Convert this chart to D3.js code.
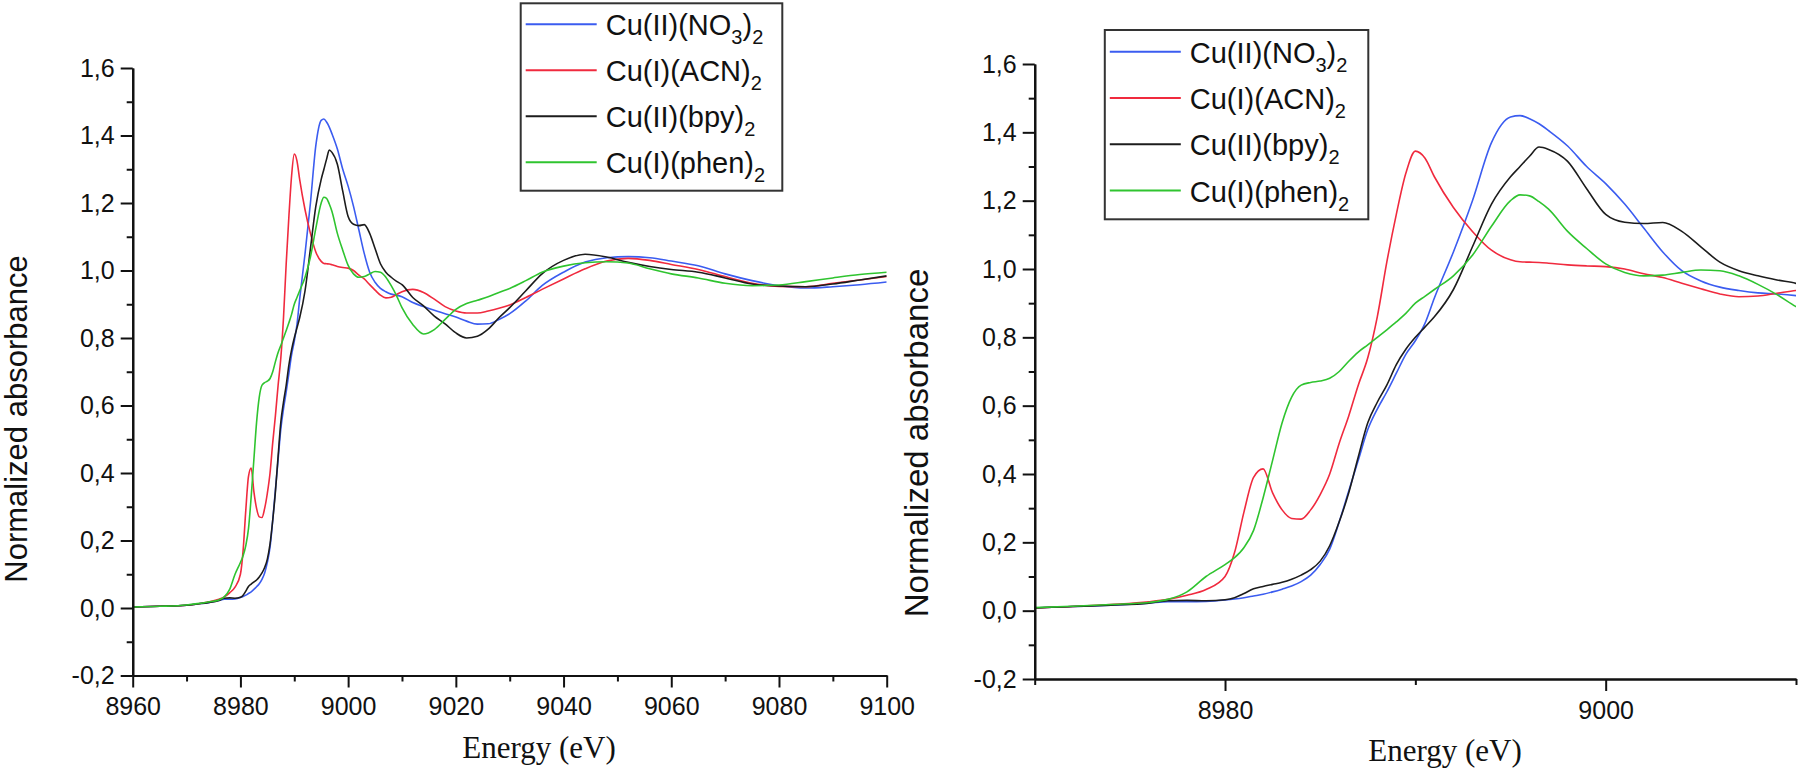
<!DOCTYPE html>
<html>
<head>
<meta charset="utf-8">
<script src="https://cdn.jsdelivr.net/npm/d3@7"></script>
<style>
  html, body { margin: 0; padding: 0; background: #fff; }
  svg { display: block; }
</style>
</head>
<body>
<svg id="chart" width="1800" height="772"></svg>
<script>
// ---------- DATA ----------
const energy = [8960, 8965, 8970, 8972, 8974, 8976, 8977, 8978, 8979, 8980,
  8980.5, 8981, 8981.5, 8982, 8982.5, 8983, 8983.5, 8984, 8984.5, 8985,
  8985.5, 8986, 8986.5, 8987, 8987.5, 8988, 8988.5, 8989, 8989.5, 8990,
  8990.5, 8991, 8992, 8993, 8994, 8995, 8995.5, 8996, 8996.5, 8997,
  8998, 8999, 9000, 9001, 9002, 9003, 9004, 9005, 9006, 9007,
  9008, 9009, 9010, 9012, 9014, 9016, 9018, 9020, 9022, 9024,
  9026, 9028, 9030, 9033, 9036, 9040, 9044, 9048, 9052, 9056,
  9060, 9065, 9070, 9075, 9080, 9085, 9090, 9095, 9100];

const cuNO3 = [0.003, 0.005, 0.008, 0.012, 0.016, 0.022, 0.026, 0.026, 0.027, 0.031,
  0.034, 0.038, 0.043, 0.048, 0.055, 0.063, 0.072, 0.085, 0.104, 0.135,
  0.18, 0.26, 0.35, 0.44, 0.53, 0.59, 0.64, 0.695, 0.75, 0.79,
  0.84, 0.915, 1.05, 1.20, 1.37, 1.445, 1.449, 1.44, 1.425, 1.405,
  1.36, 1.30, 1.25, 1.19, 1.12, 1.05, 0.995, 0.965, 0.947, 0.937,
  0.930, 0.927, 0.922, 0.905, 0.893, 0.882, 0.872, 0.862, 0.850, 0.841,
  0.842, 0.855, 0.872, 0.910, 0.955, 0.995, 1.025, 1.038, 1.041, 1.038,
  1.028, 1.014, 0.990, 0.970, 0.955, 0.948, 0.952, 0.958, 0.966];

const cuACN = [0.003, 0.005, 0.008, 0.012, 0.018, 0.026, 0.033, 0.045, 0.062, 0.10,
  0.17, 0.29, 0.39, 0.415, 0.345, 0.295, 0.27, 0.268, 0.295, 0.34,
  0.40, 0.49, 0.57, 0.66, 0.74, 0.86, 1.02, 1.16, 1.28, 1.345,
  1.325, 1.27, 1.18, 1.11, 1.055, 1.027, 1.021, 1.020, 1.019, 1.017,
  1.012, 1.009, 1.007, 1.0, 0.986, 0.975, 0.958, 0.942, 0.927, 0.919,
  0.921, 0.929, 0.937, 0.944, 0.935, 0.915, 0.893, 0.880, 0.874, 0.874,
  0.880, 0.888, 0.898, 0.920, 0.944, 0.975, 1.005, 1.028, 1.036, 1.030,
  1.018, 1.003, 0.982, 0.962, 0.953, 0.952, 0.962, 0.972, 0.982];

const cuBpy = [0.003, 0.005, 0.008, 0.012, 0.016, 0.022, 0.029, 0.030, 0.029, 0.032,
  0.038, 0.050, 0.064, 0.071, 0.077, 0.083, 0.092, 0.104, 0.120, 0.145,
  0.19, 0.26, 0.345, 0.45, 0.55, 0.61, 0.66, 0.72, 0.765, 0.80,
  0.83, 0.86, 0.94, 1.065, 1.19, 1.27, 1.30, 1.33, 1.357, 1.35,
  1.315, 1.235, 1.16, 1.137, 1.133, 1.136, 1.11, 1.065, 1.02, 0.995,
  0.98, 0.968, 0.958, 0.92, 0.895, 0.865, 0.842, 0.815, 0.80, 0.805,
  0.826, 0.86, 0.89, 0.94, 0.99, 1.03, 1.048, 1.04, 1.024, 1.012,
  1.003, 0.995, 0.978, 0.96, 0.954, 0.952, 0.96, 0.972, 0.984];

const cuPhen = [0.003, 0.005, 0.009, 0.013, 0.018, 0.024, 0.033, 0.055, 0.10, 0.135,
  0.155, 0.185, 0.235, 0.33, 0.44, 0.55, 0.625, 0.66, 0.668, 0.672,
  0.68, 0.70, 0.73, 0.757, 0.778, 0.80, 0.822, 0.845, 0.87, 0.90,
  0.92, 0.94, 0.98, 1.04, 1.125, 1.20, 1.217, 1.214, 1.197, 1.175,
  1.11, 1.06, 1.015, 0.99, 0.98, 0.982, 0.99, 0.997, 0.995, 0.98,
  0.955, 0.925, 0.89, 0.84, 0.812, 0.825, 0.855, 0.885, 0.902, 0.912,
  0.922, 0.935, 0.947, 0.97, 0.995, 1.013, 1.023, 1.026, 1.022, 1.005,
  0.99, 0.978, 0.962, 0.955, 0.957, 0.967, 0.978, 0.988, 0.995];

// legend labels: alternating [normal, subscript, normal, subscript ...]
const seriesLabels = [
  ["Cu(II)(NO", "3", ")", "2"],
  ["Cu(I)(ACN)", "2"],
  ["Cu(II)(bpy)", "2"],
  ["Cu(I)(phen)", "2"]
];
const seriesValues = [cuNO3, cuACN, cuBpy, cuPhen];
const seriesColors = ["#3b5cf0", "#f02a3e", "#1c1c1c", "#2fc42f"];

const yTicksMajor = [-0.2, 0, 0.2, 0.4, 0.6, 0.8, 1.0, 1.2, 1.4, 1.6];
const yTicksMinor = [-0.1, 0.1, 0.3, 0.5, 0.7, 0.9, 1.1, 1.3, 1.5];
const leftXMajor = [8960, 8980, 9000, 9020, 9040, 9060, 9080, 9100];
const leftXMinor = [8970, 8990, 9010, 9030, 9050, 9070, 9090];
const rightXMajor = [8980, 9000];
const rightXMinor = [8970, 8990, 9010];

const xTitle = "Energy (eV)";
const yTitle = "Normalized absorbance";

// ---------- DRAW ----------
const svg = d3.select("#chart");
svg.append("rect").attr("width", 1800).attr("height", 772).attr("fill", "#fff");

const SANS = "'Liberation Sans', Arial, Helvetica, sans-serif";
const SERIF = "'Liberation Serif', 'Times New Roman', Times, serif";
const fmt = v => (Math.abs(v) < 1e-9 ? 0 : v).toFixed(1).replace(".", ",");

function drawPanel(cfg, id) {
  const x = d3.scaleLinear().domain(cfg.xDomain).range(cfg.xRange);
  const y = d3.scaleLinear().domain([-0.2, 1.6]).range(cfg.yRange);
  const g = svg.append("g");

  const clipId = "clip" + id;
  svg.append("clipPath").attr("id", clipId).append("rect")
    .attr("x", cfg.xRange[0]).attr("y", cfg.yRange[1] - 40)
    .attr("width", cfg.xRange[1] - cfg.xRange[0])
    .attr("height", cfg.yRange[0] - cfg.yRange[1] + 40);

  const line = d3.line()
    .x((d, i) => x(energy[i]))
    .y(d => y(d))
    .curve(d3.curveMonotoneX);

  const lines = g.append("g").attr("clip-path", `url(#${clipId})`);
  seriesValues.forEach((vals, k) => {
    lines.append("path")
      .attr("d", line(vals))
      .attr("fill", "none")
      .attr("stroke", seriesColors[k])
      .attr("stroke-width", 1.6)
      .attr("stroke-linejoin", "round");
  });

  const styleAxis = sel => {
    sel.select(".domain").attr("stroke", "#111").attr("stroke-width", 2.2);
    sel.selectAll(".tick line").attr("stroke", "#111").attr("stroke-width", 2);
    sel.selectAll("text").attr("font-family", SANS).attr("font-size", 25).attr("fill", "#111");
  };

  const xAxisY = cfg.yRange[0];
  g.append("g").attr("transform", `translate(0,${xAxisY})`)
    .call(d3.axisBottom(x).tickValues(cfg.xMinor).tickSize(6).tickSizeOuter(0).tickFormat(""))
    .call(styleAxis);
  g.append("g").attr("transform", `translate(0,${xAxisY})`)
    .call(d3.axisBottom(x).tickValues(cfg.xMajor).tickSize(12).tickSizeOuter(0).tickPadding(10).tickFormat(d3.format("d")))
    .call(styleAxis);

  const yAxisX = cfg.xRange[0];
  g.append("g").attr("transform", `translate(${yAxisX},0)`)
    .call(d3.axisLeft(y).tickValues(yTicksMinor).tickSize(6).tickSizeOuter(0).tickFormat(""))
    .call(styleAxis);
  g.append("g").attr("transform", `translate(${yAxisX},0)`)
    .call(d3.axisLeft(y).tickValues(yTicksMajor).tickSize(12).tickSizeOuter(0).tickPadding(6).tickFormat(fmt))
    .call(styleAxis);

  g.append("text")
    .attr("x", cfg.xTitleX).attr("y", cfg.xTitleY)
    .attr("text-anchor", "middle")
    .attr("font-family", SERIF).attr("font-size", cfg.xTitleSize).attr("fill", "#111")
    .text(xTitle);
  g.append("text")
    .attr("transform", `translate(${cfg.yTitleX},${cfg.yTitleY}) rotate(-90)`)
    .attr("text-anchor", "middle")
    .attr("font-family", SANS).attr("font-size", cfg.yTitleSize).attr("fill", "#111")
    .text(yTitle);

  const L = cfg.legend;
  const lg = g.append("g");
  lg.append("rect")
    .attr("x", L.x).attr("y", L.y).attr("width", L.w).attr("height", L.h)
    .attr("fill", "#fff").attr("stroke", "#333").attr("stroke-width", 2);
  seriesLabels.forEach((parts, k) => {
    const ry = L.y + L.firstRow + k * L.rowGap;
    lg.append("line")
      .attr("x1", L.x + 5).attr("x2", L.x + 76)
      .attr("y1", ry).attr("y2", ry)
      .attr("stroke", seriesColors[k]).attr("stroke-width", 2);
    const t = lg.append("text")
      .attr("x", L.x + 85).attr("y", ry + 11)
      .attr("font-family", SANS).attr("font-size", 29).attr("fill", "#111");
    parts.forEach((p, j) => {
      const sub = j % 2 === 1;
      t.append("tspan")
        .attr("dy", j === 0 ? 0 : (sub ? 9 : -9))
        .attr("font-size", sub ? 20 : 29)
        .text(p);
    });
  });
}

drawPanel({
  xDomain: [8960, 9100], xRange: [132.7, 886.7], yRange: [675.5, 68],
  xMajor: leftXMajor, xMinor: leftXMinor,
  xTitleX: 539, xTitleY: 758, xTitleSize: 31,
  yTitleX: 27, yTitleY: 419, yTitleSize: 31,
  legend: { x: 520.7, y: 3.3, w: 261.6, h: 187.4, firstRow: 21, rowGap: 46 }
}, "L");

drawPanel({
  xDomain: [8970, 9010], xRange: [1034.7, 1796], yRange: [679, 64],
  xMajor: rightXMajor, xMinor: rightXMinor,
  xTitleX: 1445, xTitleY: 761, xTitleSize: 31,
  yTitleX: 928, yTitleY: 443, yTitleSize: 33,
  legend: { x: 1104.8, y: 30, w: 263.5, h: 189.3, firstRow: 21.7, rowGap: 46.3 }
}, "R");
</script>
</body>
</html>
